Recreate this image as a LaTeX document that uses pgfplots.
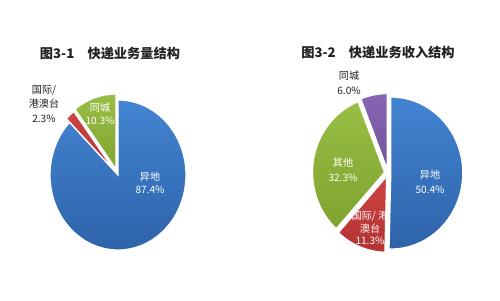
\documentclass[border=0pt]{standalone}
\usepackage{pgfplots}
\pgfplotsset{compat=1.18}
\usepackage{fontspec}
\setmainfont{Noto Sans CJK SC}
\definecolor{pblue}{HTML}{3A76C2}
\definecolor{pbluet}{HTML}{4384D2}
\definecolor{pblueb}{HTML}{2E63AA}
\definecolor{pred}{HTML}{C63A3A}
\definecolor{predt}{HTML}{D04444}
\definecolor{predb}{HTML}{B23232}
\definecolor{pgreen}{HTML}{8DB23A}
\definecolor{pgreent}{HTML}{98BE45}
\definecolor{pgreenb}{HTML}{7FA32F}
\definecolor{ppurple}{HTML}{7D5BA8}
\definecolor{ppurplet}{HTML}{8866B4}
\definecolor{ppurpleb}{HTML}{70509A}
\definecolor{ttxt}{HTML}{222222}
% slice: cx, cy, start angle, end angle, explode, style, x radius, y radius
\newcommand\slice[8]{%
  \path[#6,draw=white,line width=0.9pt] (axis cs:#1,#2) ++({(#3+#4)/2}:#5) -- ++(#3:#7 and #8)
    arc[start angle=#3,end angle=#4,x radius=#7,y radius=#8] -- cycle;}
\begin{document}
\begin{tikzpicture}
% shares in per cent, clockwise from twelve o'clock
\def\LA{87.4}\def\LB{2.3}\def\LC{10.3}
\def\RA{50.4}\def\RB{11.3}\def\RC{32.3}\def\RD{6.0}
\pgfmathsetmacro\la{90-\LA*3.6}
\pgfmathsetmacro\lb{\la-\LB*3.6}
\pgfmathsetmacro\lc{\lb-\LC*3.6}
\pgfmathsetmacro\ra{90-\RA*3.6}
\pgfmathsetmacro\rb{\ra-\RB*3.6}
\pgfmathsetmacro\rc{\rb-\RC*3.6}
\pgfmathsetmacro\rd{\rc-\RD*3.6}
\begin{axis}[width=12.5cm,height=7.5cm,scale only axis,xmin=0,xmax=500,ymin=0,ymax=300,hide axis,clip=false]
\addplot[draw=none] coordinates {(0,0) (500,300)};
% left pie
\slice{118}{125}{90}{\la}{0pt}{top color=pbluet,bottom color=pblueb}{1.7cm}{1.875cm}
\slice{118}{125}{\la}{\lb}{3.5pt}{top color=predt,bottom color=predb}{1.7cm}{1.875cm}
\slice{118}{125}{\lb}{\lc}{4.5pt}{top color=pgreent,bottom color=pgreenb}{1.7cm}{1.875cm}
% right pie
\slice{388}{127}{90}{\ra}{2pt}{top color=pbluet,bottom color=pblueb}{1.8cm}{1.9cm}
\slice{388}{127}{\ra}{\rb}{2.5pt}{top color=predt,bottom color=predb}{1.8cm}{1.9cm}
\slice{388}{127}{\rb}{\rc}{2.5pt}{top color=pgreent,bottom color=pgreenb}{1.8cm}{1.9cm}
\slice{388}{127}{\rc}{\rd}{2.5pt}{top color=ppurplet,bottom color=ppurpleb}{1.8cm}{1.9cm}
% titles
\node[text=ttxt,font=\fontsize{9.4}{11}\selectfont\bfseries] at (axis cs:110,247) {图3-1\quad 快递业务量结构};
\node[text=ttxt,font=\fontsize{9.4}{11}\selectfont\bfseries] at (axis cs:378,248) {图3-2\quad 快递业务收入结构};
% labels
\node[text=ttxt,align=center,font=\fontsize{7.2}{10.5}\selectfont] at (axis cs:44,196) {国际/\\港澳台\\2.3\%};
\node[text=white,align=center,font=\fontsize{7.2}{9.5}\selectfont] at (axis cs:100,186) {同城\\10.3\%};
\node[text=white,align=center,font=\fontsize{7.2}{9.5}\selectfont] at (axis cs:150,117) {异地\\\LA\%};
\node[text=ttxt,align=center,font=\fontsize{7.2}{10.5}\selectfont] at (axis cs:349,217) {同城\\6.0\%};
\node[text=white,align=center,font=\fontsize{7.2}{10.5}\selectfont] at (axis cs:343,130) {其他\\32.3\%};
\node[text=white,align=center,font=\fontsize{7.2}{10.5}\selectfont] at (axis cs:430,118) {异地\\50.4\%};
\begin{scope}
\clip (axis cs:388,127) ++({(\ra+\rb)/2}:2.5pt) -- ++(\ra:1.8cm and 1.9cm)
    arc[start angle=\ra,end angle=\rb,x radius=1.8cm,y radius=1.9cm] -- cycle;
\node[text=white,align=center,font=\fontsize{7.2}{9}\selectfont] at (axis cs:370,72) {国际/ 港\\澳台\\11.3\%};
\end{scope}
\end{axis}
\end{tikzpicture}
\end{document}
